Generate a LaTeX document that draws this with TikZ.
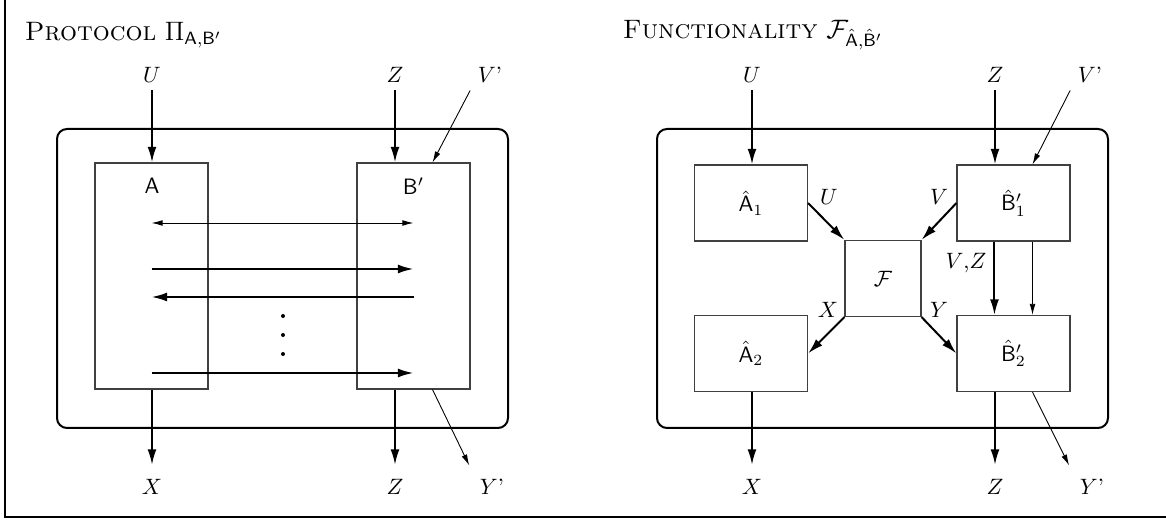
\documentclass[tikz,border=0pt]{standalone}
\usetikzlibrary{arrows.meta,calc}
\begin{document}
\begin{tikzpicture}[x=0.45pt,y=-0.45pt,
  box/.style={draw=black!75,line width=0.5pt,minimum width=50.85pt,minimum height=34.2pt,inner sep=0pt},
  frame/.style={draw,line width=0.9pt,rounded corners=4.5pt},
  big/.style={line width=0.9pt,-{Latex[length=7pt,width=4pt]}},
  small/.style={line width=0.4pt,-{Latex[length=5pt,width=2.6pt]}},
  both/.style={line width=0.4pt,{Latex[length=5pt,width=2.6pt]}-{Latex[length=5pt,width=2.6pt]}}]
\useasboundingbox (0,0) rectangle (1166,520);
\draw[line width=0.6pt] (5,0) -- (5,517) -- (1166,517);

% Protocol
\node[anchor=west] (ptitle) at (17,35) {\large\textsc{Protocol} $\Pi_{\mathsf{A},\mathsf{B}'}$};
\draw[frame] (57,129) rectangle (508,428);
\node[box,minimum height=101.7pt] (A) at (151.5,276) {};
\node[box,minimum height=101.7pt] (B) at (413.5,276) {};
\node (Alab) at (152,186) {$\mathsf{A}$};
\node (Blab) at (413.5,186) {$\mathsf{B}'$};
\node (Ut) at (152,75) {$U$};
\node (Zt) at (395,75) {$Z$};
\node (Vt) at (490,75) {$V$'};
\draw[big] (Ut) -- (Ut |- A.north);
\draw[big] (Zt) -- (Zt |- B.north);
\draw[small] (Vt.south west) -- ($(B.north west)!2/3!(B.north east)$);
\node (Xb) at (152,487) {$X$};
\node (Zb) at (395,487) {$Z$};
\node (Yb) at (492,487) {$Y$'};
\draw[big,shorten >=3pt] (Xb |- A.south) -- (Xb);
\draw[big,shorten >=3pt] (Zb |- B.south) -- (Zb);
\draw[small,shorten >=3pt] ($(B.south west)!2/3!(B.south east)$) -- (Yb.north west);
% messages
\draw[both] (A |- 0,223) -- (B |- 0,223);
\draw[big] (A |- 0,269) -- (B |- 0,269);
\draw[big] (B |- 0,297) -- (A |- 0,297);
\draw[big] (A |- 0,373) -- (B |- 0,373);
\foreach \y in {316,335,354}
  \fill (283,\y) circle[radius=0.9pt];

% Functionality
\node[anchor=west] (ftitle) at (615,35) {\large\textsc{Functionality} $\mathcal{F}_{\hat{\mathsf{A}},\hat{\mathsf{B}}'}$};
\draw[frame] (657,129) rectangle (1108,428);
\node[box] (A1) at (751,203) {$\hat{\mathsf{A}}_1$};
\node[box] (B1) at (1013.5,203) {$\hat{\mathsf{B}}'_1$};
\node[box,minimum width=34.2pt] (F) at (883,278.5) {$\mathcal{F}$};
\node[box] (A2) at (751,353.5) {$\hat{\mathsf{A}}_2$};
\node[box] (B2) at (1013.5,353.5) {$\hat{\mathsf{B}}'_2$};
\draw[big] (A1.east) -- (F.north west);
\draw[big] (B1.west) -- (F.north east);
\draw[big] (F.south west) -- (A2.east);
\draw[big] (F.south east) -- (B2.west);
\node (lu) at (829,197) {$U$};
\node (lv) at (939,197) {$V$};
\node (lx) at (828,310) {$X$};
\node (ly) at (939,310) {$Y$};
\node (lvz) at (966,263) {$V$,$Z$};
\draw[big] ($(B1.south west)!1/3!(B1.south east)$) -- ($(B2.north west)!1/3!(B2.north east)$);
\draw[small] ($(B1.south west)!2/3!(B1.south east)$) -- ($(B2.north west)!2/3!(B2.north east)$);
\node (Ut2) at (752,75) {$U$};
\node (Zt2) at (995,75) {$Z$};
\node (Vt2) at (1090,75) {$V$'};
\draw[big] (Ut2) -- (Ut2 |- A1.north);
\draw[big] (Zt2) -- (Zt2 |- B1.north);
\draw[small] (Vt2.south west) -- ($(B1.north west)!2/3!(B1.north east)$);
\node (Xb2) at (752,487) {$X$};
\node (Zb2) at (995,487) {$Z$};
\node (Yb2) at (1092,487) {$Y$'};
\draw[big,shorten >=3pt] (Xb2 |- A2.south) -- (Xb2);
\draw[big,shorten >=3pt] (Zb2 |- B2.south) -- (Zb2);
\draw[small,shorten >=3pt] ($(B2.south west)!2/3!(B2.south east)$) -- (Yb2.north west);
\end{tikzpicture}
\end{document}
